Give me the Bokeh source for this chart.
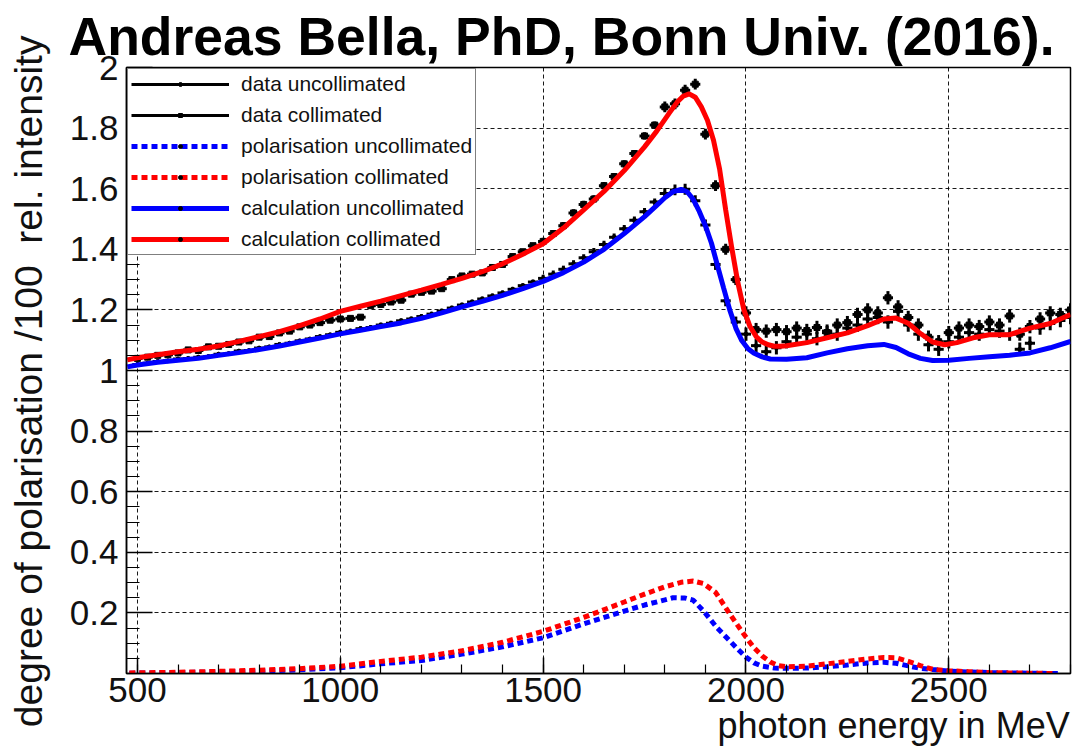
from bokeh.plotting import figure
from bokeh.models import Range1d, FixedTicker, Legend, LegendItem, ColumnDataSource
from bokeh.embed import file_html
from bokeh.resources import INLINE

FONT = "Liberation Sans"
NBSP = "\u00a0"

# ---------------- data ----------------
bin_x = [500, 525, 550, 575, 600, 625, 650, 675, 700, 725, 750, 775, 800, 825, 850, 875,
         900, 925, 950, 975, 1000, 1025, 1050, 1075, 1100, 1125, 1150, 1175, 1200, 1225,
         1250, 1275, 1300, 1325, 1350, 1375, 1400, 1425, 1450, 1475, 1500, 1525, 1550,
         1575, 1600, 1625, 1650, 1675, 1700, 1725, 1750, 1775, 1800, 1825, 1850, 1875,
         1900, 1925, 1950, 1975, 2000, 2025, 2050, 2075, 2100, 2125, 2150, 2175, 2200,
         2225, 2250, 2275, 2300, 2325, 2350, 2375, 2400, 2425, 2450, 2475, 2500, 2525,
         2550, 2575, 2600, 2625, 2650, 2675, 2700, 2725, 2750, 2775, 2800]
bin_half = 12.5

data_collimated = [1.040, 1.044, 1.050, 1.052, 1.058, 1.068, 1.066, 1.078, 1.080, 1.086,
                   1.094, 1.098, 1.110, 1.112, 1.124, 1.130, 1.144, 1.150, 1.158, 1.166,
                   1.170, 1.172, 1.176, 1.214, 1.218, 1.226, 1.232, 1.252, 1.258, 1.262,
                   1.270, 1.300, 1.312, 1.318, 1.322, 1.340, 1.350, 1.376, 1.392, 1.412,
                   1.426, 1.452, 1.478, 1.520, 1.548, 1.566, 1.610, 1.640, 1.682, 1.716,
                   1.774, 1.810, 1.870, 1.880, 1.925, 1.945, 1.780, 1.610, 1.400, 1.300,
                   1.190, 1.135, 1.130, 1.135, 1.128, 1.140, 1.132, 1.142, 1.125, 1.150,
                   1.158, 1.185, 1.200, 1.190, 1.240, 1.210, 1.175, 1.150, 1.110, 1.095,
                   1.125, 1.140, 1.150, 1.145, 1.160, 1.150, 1.180, 1.120, 1.145, 1.170,
                   1.190, 1.185, 1.200]

data_uncollimated = [1.020, 1.024, 1.030, 1.032, 1.038, 1.040, 1.044, 1.046, 1.054, 1.056,
                     1.064, 1.066, 1.074, 1.078, 1.086, 1.090, 1.098, 1.104, 1.112, 1.118,
                     1.126, 1.130, 1.138, 1.142, 1.150, 1.156, 1.164, 1.170, 1.178, 1.186,
                     1.196, 1.206, 1.216, 1.226, 1.236, 1.246, 1.256, 1.268, 1.280, 1.292,
                     1.304, 1.318, 1.334, 1.352, 1.372, 1.392, 1.416, 1.440, 1.468, 1.496,
                     1.524, 1.556, 1.584, 1.596, 1.598, 1.560, 1.480, 1.350, 1.230, 1.160,
                     1.120, 1.082, 1.062, 1.075, 1.095, 1.110, 1.120, 1.105, 1.130, 1.120,
                     1.140, 1.150, 1.170, 1.175, 1.160, 1.195, 1.150, 1.120, 1.085, 1.070,
                     1.095, 1.110, 1.125, 1.120, 1.135, 1.130, 1.120, 1.070, 1.090, 1.140,
                     1.155, 1.165, 1.175]

data_error = [0.006] * 20 + [0.008] * 20 + [0.012] * 12 + [0.018] * 8 + [0.022] * 33

calc_col_x = [475, 500, 550, 600, 650, 700, 750, 800, 850, 900, 950, 1000, 1050, 1100,
              1150, 1200, 1250, 1300, 1350, 1400, 1450, 1500, 1550, 1600, 1650, 1700, 1750,
              1780, 1810, 1830, 1845, 1860, 1875, 1890, 1905, 1920, 1935, 1950, 1965, 1980,
              1995, 2010, 2025, 2040, 2055, 2070, 2085, 2100, 2150, 2200, 2250, 2300, 2340,
              2370, 2400, 2430, 2460, 2490, 2520, 2560, 2600, 2650, 2700, 2750, 2800]
calc_col_y = [1.035, 1.042, 1.052, 1.062, 1.070, 1.081, 1.096, 1.112, 1.128, 1.148, 1.170,
              1.195, 1.212, 1.229, 1.247, 1.265, 1.284, 1.304, 1.326, 1.352, 1.384, 1.418,
              1.470, 1.530, 1.591, 1.660, 1.738, 1.790, 1.848, 1.885, 1.905, 1.913, 1.902,
              1.870, 1.826, 1.760, 1.665, 1.530, 1.405, 1.290, 1.200, 1.145, 1.112, 1.094,
              1.085, 1.080, 1.080, 1.082, 1.092, 1.108, 1.124, 1.148, 1.170, 1.173, 1.156,
              1.122, 1.094, 1.085, 1.092, 1.108, 1.118, 1.118, 1.140, 1.155, 1.185]

calc_unc_x = [475, 500, 550, 600, 650, 700, 750, 800, 850, 900, 950, 1000, 1050, 1100, 1150,
              1200, 1250, 1300, 1350, 1400, 1450, 1500, 1550, 1600, 1650, 1700, 1750, 1780,
              1800, 1820, 1840, 1855, 1870, 1885, 1900, 1915, 1930, 1945, 1960, 1975, 1990,
              2005, 2020, 2040, 2060, 2100, 2150, 2200, 2250, 2300, 2340, 2370, 2400, 2430,
              2460, 2500, 2550, 2600, 2650, 2700, 2750, 2800]
calc_unc_y = [1.012, 1.018, 1.027, 1.034, 1.040, 1.050, 1.059, 1.069, 1.081, 1.094, 1.107,
              1.121, 1.133, 1.145, 1.157, 1.172, 1.190, 1.210, 1.228, 1.248, 1.270, 1.294,
              1.323, 1.358, 1.400, 1.452, 1.508, 1.545, 1.570, 1.590, 1.598, 1.590, 1.565,
              1.525, 1.478, 1.420, 1.345, 1.272, 1.200, 1.140, 1.098, 1.072, 1.057, 1.045,
              1.038, 1.037, 1.042, 1.058, 1.072, 1.082, 1.086, 1.076, 1.055, 1.040, 1.033,
              1.034, 1.040, 1.045, 1.050, 1.058, 1.075, 1.096]

pol_col_x = [480, 550, 600, 700, 800, 900, 1000, 1100, 1200, 1300, 1400, 1500, 1600, 1700,
             1750, 1800, 1840, 1870, 1895, 1925, 1960, 1980, 2000, 2020, 2040, 2060, 2080,
             2100, 2150, 2200, 2250, 2300, 2340, 2370, 2400, 2430, 2460, 2500, 2550, 2600,
             2650, 2700, 2760]
pol_col_y = [0.002, 0.003, 0.004, 0.007, 0.011, 0.016, 0.024, 0.040, 0.054, 0.075, 0.103,
             0.139, 0.185, 0.236, 0.262, 0.286, 0.301, 0.305, 0.297, 0.268, 0.197, 0.158,
             0.120, 0.085, 0.058, 0.038, 0.026, 0.022, 0.024, 0.032, 0.040, 0.048, 0.053,
             0.052, 0.040, 0.026, 0.014, 0.009, 0.006, 0.003, 0.002, 0.001, 0.000]

pol_unc_x = [480, 550, 600, 700, 800, 900, 1000, 1100, 1200, 1300, 1400, 1500, 1600, 1700,
             1750, 1800, 1820, 1850, 1870, 1895, 1928, 1960, 1980, 2000, 2020, 2040, 2070,
             2100, 2150, 2200, 2250, 2300, 2340, 2370, 2400, 2430, 2460, 2500, 2550, 2600,
             2650, 2700, 2770]
pol_unc_y = [0.001, 0.002, 0.003, 0.005, 0.008, 0.012, 0.019, 0.032, 0.043, 0.064, 0.088,
             0.118, 0.164, 0.206, 0.226, 0.243, 0.250, 0.249, 0.242, 0.207, 0.152, 0.108,
             0.080, 0.054, 0.035, 0.024, 0.018, 0.017, 0.018, 0.022, 0.028, 0.035, 0.037,
             0.034, 0.025, 0.017, 0.013, 0.008, 0.005, 0.003, 0.002, 0.001, 0.000]

x_ticks = [500, 1000, 1500, 2000, 2500]
y_ticks = [0.2, 0.4, 0.6, 0.8, 1.0, 1.2, 1.4, 1.6, 1.8, 2.0]
y_grid = [0.2, 0.4, 0.6, 0.8, 1.0, 1.2, 1.4, 1.6, 1.8]
y_label_overrides = {1.0: "1", 2.0: "2"}

title_text = "Andreas Bella, PhD, Bonn Univ. (2016)."
x_title = "photon energy in MeV"
y_title_top = "rel. intensity"
y_title_bottom = "degree of polarisation /100"

legend_labels = ["data uncollimated", "data collimated", "polarisation uncollimated",
                 "polarisation collimated", "calculation uncollimated", "calculation collimated"]

# ---------------- figure ----------------
p = figure(width=1073, height=751, output_backend="svg", toolbar_location=None,
           x_range=Range1d(473, 2800), y_range=Range1d(0, 2.0),
           min_border_left=126, min_border_right=3, min_border_top=67, min_border_bottom=78)
p.title.text = title_text
p.title.align = "left"
p.title.offset = -58
p.title.standoff = 4
p.title.text_font = FONT
p.title.text_font_style = "bold"
p.title.text_font_size = "53.5px"
p.title.text_color = "black"

p.background_fill_color = "white"
p.border_fill_color = "white"
p.outline_line_color = "black"
p.outline_line_width = 1.5

minor_x = [v for v in range(500, 2801, 100)]
minor_y = [round(k * 0.05, 2) for k in range(0, 41)]
p.xaxis.ticker = FixedTicker(ticks=x_ticks, minor_ticks=minor_x)
p.yaxis.ticker = FixedTicker(ticks=y_ticks, minor_ticks=minor_y)
p.yaxis.major_label_overrides = y_label_overrides

for ax in (p.xaxis[0], p.yaxis[0]):
    ax.axis_line_color = "black"
    ax.axis_line_width = 1.5
    ax.major_tick_line_color = "black"
    ax.minor_tick_line_color = "black"
    ax.major_tick_line_width = 1.5
    ax.minor_tick_line_width = 1.2
    ax.major_tick_out = 0
    ax.minor_tick_out = 0
    ax.major_label_text_font = FONT
    ax.major_label_text_font_size = "35px"
    ax.major_label_text_color = "#111111"
    ax.axis_label_text_font = FONT
    ax.axis_label_text_font_style = "normal"
    ax.axis_label_text_color = "#111111"
p.xaxis.major_tick_in = 16
p.xaxis.minor_tick_in = 9
p.yaxis.major_tick_in = 26
p.yaxis.minor_tick_in = 13
p.xaxis.major_label_standoff = 4
p.yaxis.major_label_standoff = 8

# x title: centred label pushed to the right end of the axis
xax = p.xaxis[0]
xax.axis_label = NBSP * 59 + x_title
xax.axis_label_text_font_size = "36px"
xax.axis_label_standoff = 0

# y titles: both titles sit in one column, read upwards
yax = p.yaxis[0]
yax.axis_label = y_title_bottom + NBSP * 2 + y_title_top + NBSP * 2
yax.axis_label_text_font_size = "39px"
yax.axis_label_standoff = 17

p.xgrid.ticker = FixedTicker(ticks=x_ticks)
p.ygrid.ticker = FixedTicker(ticks=y_grid)
p.grid.grid_line_color = "black"
p.grid.grid_line_width = 1
p.grid.grid_line_dash = "4 3"
p.grid.grid_line_alpha = 0.9

# polarisation curves (dotted)
r_pol_unc = p.line(pol_unc_x, pol_unc_y, line_color="blue", line_width=5, line_dash="6 4")
r_pol_col = p.line(pol_col_x, pol_col_y, line_color="red", line_width=5, line_dash="6 4")


def draw_data(ys, marker, size):
    src = ColumnDataSource(dict(
        x=bin_x, y=ys,
        x0=[x - bin_half for x in bin_x], x1=[x + bin_half for x in bin_x],
        y0=[y - e for y, e in zip(ys, data_error)], y1=[y + e for y, e in zip(ys, data_error)]))
    rh = p.segment(x0="x0", y0="y", x1="x1", y1="y", line_color="black", line_width=3, source=src)
    p.segment(x0="x", y0="y0", x1="x", y1="y1", line_color="black", line_width=3, source=src)
    rm = p.scatter(x="x", y="y", marker=marker, size=size, color="black", source=src)
    return rh, rm


r_unc_h, r_unc_m = draw_data(data_uncollimated, "circle", 4)
r_col_h, r_col_m = draw_data(data_collimated, "square", 6)

r_calc_unc = p.line(calc_unc_x, calc_unc_y, line_color="blue", line_width=5)
r_calc_col = p.line(calc_col_x, calc_col_y, line_color="red", line_width=5)

items = [
    LegendItem(label=legend_labels[0], renderers=[r_unc_h, r_unc_m]),
    LegendItem(label=legend_labels[1], renderers=[r_col_h, r_col_m]),
    LegendItem(label=legend_labels[2], renderers=[r_pol_unc, r_unc_m]),
    LegendItem(label=legend_labels[3], renderers=[r_pol_col, r_unc_m]),
    LegendItem(label=legend_labels[4], renderers=[r_calc_unc, r_unc_m]),
    LegendItem(label=legend_labels[5], renderers=[r_calc_col, r_unc_m]),
]
legend = Legend(items=items, location="top_left", margin=1, padding=3, spacing=7,
                glyph_width=98, glyph_height=10, label_height=24, label_standoff=12,
                label_text_font=FONT, label_text_font_size="21px", label_text_color="#111111",
                border_line_color="black", border_line_width=1.2,
                background_fill_color="white", background_fill_alpha=1.0)
p.add_layout(legend)

open("out.html", "w").write(file_html(p, INLINE))
